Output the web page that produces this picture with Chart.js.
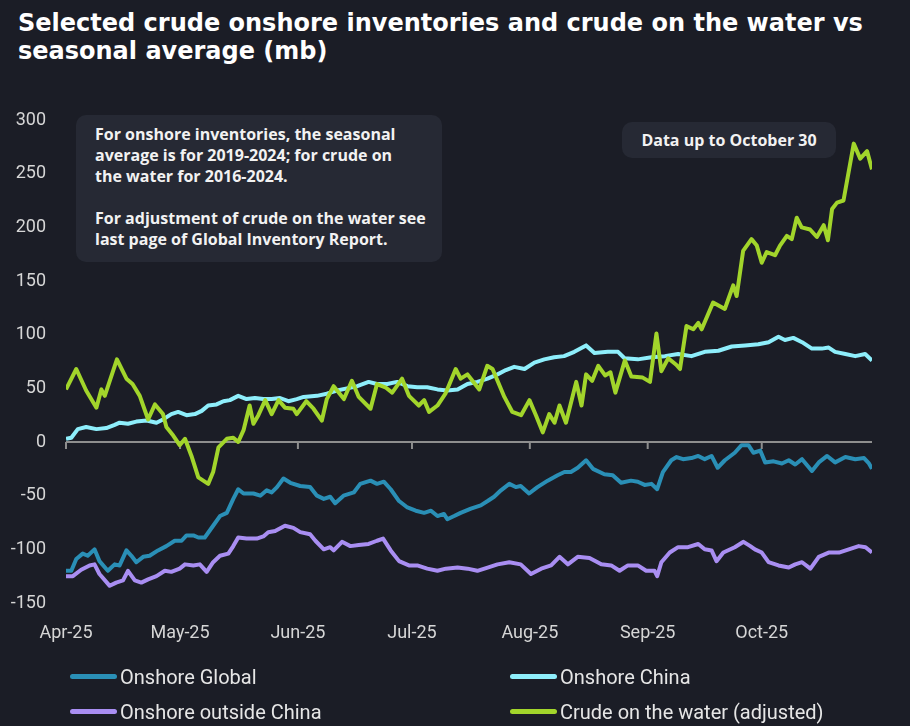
<!DOCTYPE html>
<html>
<head>
<meta charset="utf-8">
<script src="https://cdn.jsdelivr.net/npm/chart.js@4.4.1/dist/chart.umd.min.js"></script>
<style>
  body { margin: 0; background: #1b1d26; width: 910px; height: 726px; overflow: hidden; position: relative; font-family: Roboto, sans-serif; }
  #title { position: absolute; left: 18px; top: 9px; color: #ffffff; font: bold 24px/28px "DejaVu Sans", sans-serif; white-space: nowrap; }
  #wrap { position: absolute; left: 0; top: 0; width: 910px; height: 660px; }
  .note { position: absolute; background: #262934; border-radius: 10px; color: #f2f2f2; font: bold 16px/21px "Open Sans", sans-serif; box-sizing: border-box; }
  #note1 { left: 76px; top: 115px; width: 366px; height: 147px; padding: 9px 0 0 19px; }
  #note2 { left: 622px; top: 122px; width: 214px; height: 36px; line-height: 36px; text-align: center; }
  #legend { position: absolute; left: 70px; top: 659px; display: grid; grid-template-columns: 440px 330px; grid-auto-rows: 35px; }
  .item { display: flex; align-items: center; color: #e6e6e6; font: 20px Roboto, sans-serif; }
  .swatch { width: 47px; height: 5px; border-radius: 3px; margin-right: 3px; }
</style>
</head>
<body>
<div id="title">Selected crude onshore inventories and crude on the water vs<br>seasonal average (mb)</div>
<div id="wrap"><canvas id="chart"></canvas></div>
<div class="note" id="note1">For onshore inventories, the seasonal<br>average is for 2019-2024; for crude on<br>the water for 2016-2024.<br><br>For adjustment of crude on the water see<br>last page of Global Inventory Report.</div>
<div class="note" id="note2">Data up to October 30</div>
<div id="legend"></div>
<script>
// day 0 = 1 April 2025
const monthStarts = [0, 30, 61, 91, 122, 153, 183];
const monthLabels = ["Apr-25", "May-25", "Jun-25", "Jul-25", "Aug-25", "Sep-25", "Oct-25"];

const globalDays = [0, 1.4, 2.7, 4.4, 5.7, 7.5, 8.8, 11, 12.8, 14.1, 15.9, 17.2, 18.5, 20.3, 22, 24.2, 26.4, 28.6, 30.4, 31.7, 33.5, 34.8, 36.5, 38.7, 40.5, 42.3, 44, 45.3, 46.7, 49.3, 51.1, 52.8, 54.1, 55.5, 57.2, 59, 61.6, 64.2, 66, 67.8, 69.5, 70.8, 73, 75.7, 77.4, 80.1, 81.8, 83.6, 85.4, 87.6, 89.8, 92, 94.2, 96, 97.7, 99.4, 100.3, 102.1, 103.8, 106.5, 109.1, 110.9, 112.6, 114.4, 116.6, 118.3, 119.6, 121.8, 124, 126.7, 129.3, 131.1, 132.8, 134.6, 136.8, 138.6, 141.6, 143.8, 146, 148.6, 150.4, 152.2, 154, 155.5, 157, 159.2, 160.6, 162.3, 164.5, 166.3, 168, 169.8, 171.4, 173.3, 175.9, 177.7, 179.5, 180.8, 182.6, 183.9, 186.1, 188.3, 190.1, 191.8, 193.6, 196.2, 198, 200.2, 202.3, 205, 207.6, 209.9, 211.2, 212];
const globalVals = [-120, -120, -109, -104, -106, -100, -111, -120, -114, -115, -101, -106, -112, -107, -106, -101, -97, -92, -92, -87, -87, -89, -89, -78, -69, -66, -53, -44, -48, -48, -50, -45, -47, -42, -34, -38, -41, -42, -50, -53, -51, -57, -50, -47, -39, -36, -39, -37, -44, -55, -61, -64, -66, -64, -69, -67, -72, -69, -66, -62, -59, -55, -51, -45, -39, -42, -41, -48, -42, -36, -31, -28, -28, -24, -17, -25, -30, -31, -38, -36, -37, -40, -39, -44, -28, -17, -14, -16, -15, -13, -16, -13, -24, -17, -10, -3, -3, -10, -8, -19, -18, -20, -17, -21, -16, -27, -19, -13, -19, -14, -16, -15, -20, -25];

const chinaDays = [0, 1.4, 3.1, 5.3, 8, 10.6, 12.8, 14.1, 16.3, 18.5, 21.2, 23.8, 25.5, 27.7, 29.5, 31.7, 33.9, 35.7, 37.4, 39.6, 41.4, 43.1, 45.3, 47.5, 49.7, 51.9, 54.1, 56.3, 58.5, 60.7, 62.5, 66, 68.6, 71.3, 73.9, 76.6, 79.6, 81.8, 84.5, 87.1, 89.8, 92.4, 95, 97.7, 100.3, 103, 105.6, 108.2, 110.9, 113.5, 115.7, 117.9, 120.6, 123.2, 125.8, 128.4, 131, 133.7, 136.8, 139, 142.5, 145.2, 146.9, 150.4, 154, 157.5, 161, 164.5, 168, 171.6, 175.1, 178.6, 182.1, 184.8, 187.4, 189.1, 191.3, 193.6, 196.2, 198.8, 200.6, 202.3, 205, 207.6, 210.2, 212];
const chinaVals = [3, 4, 12, 14, 12, 13, 16, 18, 17, 19, 20, 18, 21, 26, 28, 25, 26, 29, 34, 35, 38, 39, 43, 40, 41, 40, 40, 41, 38, 40, 42, 43, 45, 48, 50, 52, 56, 54, 54, 56, 52, 51, 51, 49, 48, 49, 54, 56, 59, 63, 67, 70, 68, 74, 77, 79, 80, 84, 90, 83, 84, 84, 78, 77, 79, 80, 82, 80, 84, 85, 89, 90, 91, 93, 98, 95, 97, 93, 87, 87, 88, 84, 82, 80, 82, 76];

const outsideDays = [0, 1.8, 4, 6.2, 7.5, 8.8, 11.5, 13.2, 15, 16.3, 18.1, 19.8, 21.6, 23.8, 26, 27.7, 29.9, 31.3, 33.5, 35.2, 37, 38.7, 40.5, 42.7, 44, 45.3, 47.5, 50.2, 51.9, 53.2, 55, 57.6, 59.8, 61.6, 64.2, 65.6, 67.8, 69.5, 70.4, 72.6, 74.8, 77, 79.6, 81.8, 83.4, 85.4, 87.6, 90.2, 92.4, 95, 97.7, 99.9, 103, 105.6, 108.2, 110.9, 113.5, 116.6, 119.6, 122.3, 125, 127.6, 129.8, 132, 134.6, 137.7, 140.8, 143.4, 145.6, 147.8, 150.4, 152.6, 154.8, 155.5, 156.6, 158.8, 161, 163.6, 166.3, 168, 169.8, 171.1, 172.9, 175.9, 178.2, 180, 181.2, 183, 184.8, 187.4, 190.1, 191.8, 193.6, 195.8, 198, 200.6, 203.3, 205.9, 208.5, 210.3, 212];
const outsideVals = [-125, -125, -119, -115, -114, -123, -134, -131, -129, -120, -129, -131, -128, -125, -120, -121, -118, -114, -115, -114, -121, -112, -106, -104, -97, -89, -90, -90, -88, -84, -83, -78, -80, -84, -86, -92, -100, -98, -101, -93, -97, -96, -95, -92, -90, -101, -111, -115, -115, -118, -120, -118, -117, -118, -120, -117, -114, -112, -114, -123, -118, -115, -107, -114, -107, -108, -114, -115, -120, -115, -115, -120, -120, -125, -112, -103, -98, -98, -95, -100, -101, -111, -103, -98, -93, -97, -100, -103, -112, -115, -117, -114, -112, -118, -107, -103, -103, -100, -97, -98, -103];

const waterDays = [0, 2.7, 5.3, 8, 9.3, 10.2, 13.4, 15.9, 17.5, 19.4, 21.6, 23.4, 25.5, 26.4, 28.2, 29.9, 31.3, 33, 34.8, 36.1, 37.4, 38.7, 40.1, 42.3, 44, 45.3, 46.7, 48.3, 49.3, 50.6, 52.4, 54.1, 55.9, 57.6, 59.8, 60.7, 63.2, 65.1, 67.3, 68.6, 70.4, 73.1, 75.2, 77, 80.1, 81.8, 84, 85.8, 88.4, 90.2, 92.8, 94.2, 95.5, 97.7, 99.8, 102.5, 103.8, 105.6, 106.9, 108.7, 110.8, 112.2, 115.3, 117.4, 119.7, 121.9, 123.6, 125.4, 127.1, 128.5, 129.8, 131.5, 134.2, 135.6, 136.8, 138.4, 140, 141.8, 143.2, 144.5, 147, 148.7, 151.7, 153.6, 155.3, 156.6, 158.4, 160.5, 161.5, 163.2, 165, 166.3, 167.2, 170.2, 173.3, 174.2, 175.5, 176.4, 178.1, 180.3, 181.7, 183, 184.3, 186.5, 187.8, 189.6, 190.9, 192.2, 193.5, 195.7, 197.5, 199.3, 200.4, 201.5, 202.8, 204.5, 207.2, 208.9, 210.7, 212];
const waterVals = [49, 68, 48, 32, 49, 43, 77, 59, 54, 43, 21, 35, 26, 14, 6, -3, 3, -13, -33, -36, -39, -28, -5, 3, 4, 0, 11, 34, 17, 25, 39, 26, 39, 32, 31, 26, 38, 31, 20, 40, 52, 40, 57, 42, 31, 54, 51, 46, 59, 43, 34, 39, 28, 34, 45, 68, 59, 63, 57, 49, 71, 68, 42, 28, 25, 39, 25, 9, 26, 18, 34, 18, 56, 34, 63, 57, 71, 62, 65, 46, 76, 61, 60, 56, 101, 66, 78, 72, 68, 108, 105, 111, 105, 130, 124, 133, 146, 136, 178, 189, 183, 167, 177, 174, 183, 192, 189, 209, 200, 198, 191, 202, 188, 217, 223, 225, 278, 264, 271, 254];

const tickColor = "#d6d6d6";
const axisGrey = "#8e8e8e";

function pts(days, vals) {
  return days.map((d, i) => ({ x: d, y: vals[i] }));
}

function line(label, days, vals, color, order) {
  return {
    label: label,
    data: pts(days, vals),
    borderColor: color,
    backgroundColor: color,
    borderWidth: 4,
    pointRadius: 0,
    tension: 0,
    borderJoinStyle: "round",
    order: order
  };
}

// small tick marks hanging under the zero line at each month
const zeroTicks = {
  id: "zeroTicks",
  beforeDatasetsDraw(chart) {
    const xs = chart.scales.x, ys = chart.scales.y, c = chart.ctx;
    const y0 = ys.getPixelForValue(0);
    c.save();
    c.strokeStyle = axisGrey;
    c.lineWidth = 2;
    monthStarts.forEach(d => {
      const x = xs.getPixelForValue(d);
      c.beginPath();
      c.moveTo(x, y0);
      c.lineTo(x, y0 + 7);
      c.stroke();
    });
    c.restore();
  }
};

const chart = new Chart(document.getElementById("chart").getContext("2d"), {
  type: "line",
  data: {
    datasets: [
      line("Onshore Global", globalDays, globalVals, "#2a8fb6", 3),
      line("Onshore China", chinaDays, chinaVals, "#8eeefb", 2),
      line("Onshore outside China", outsideDays, outsideVals, "#a98ef2", 4),
      line("Crude on the water (adjusted)", waterDays, waterVals, "#a2d52b", 1)
    ]
  },
  options: {
    responsive: true,
    maintainAspectRatio: false,
    animation: false,
    layout: { padding: { top: 120, left: 4, right: 38, bottom: 0 } },
    plugins: {
      legend: { display: false },
      tooltip: { enabled: false }
    },
    scales: {
      x: {
        type: "linear",
        min: 0,
        max: 212,
        afterBuildTicks: s => { s.ticks = monthStarts.map(v => ({ value: v })); },
        afterFit: s => { s.height = 57; },
        ticks: {
          callback: (v, i) => monthLabels[i],
          color: tickColor,
          font: { family: "Roboto", size: 18 },
          padding: 20,
          maxRotation: 0,
          autoSkip: false
        },
        grid: { display: false, drawTicks: false },
        border: { display: false }
      },
      y: {
        min: -150,
        max: 300,
        afterFit: s => { s.width = 62; },
        ticks: {
          stepSize: 50,
          color: tickColor,
          font: { family: "Roboto", size: 18 },
          padding: 20
        },
        grid: {
          drawTicks: false,
          lineWidth: 2,
          color: c => (c.tick && c.tick.value === 0 ? axisGrey : "transparent")
        },
        border: { display: false }
      }
    }
  },
  plugins: [zeroTicks]
});

// legend built from the chart's datasets
const legend = document.getElementById("legend");
chart.data.datasets.forEach(ds => {
  const item = document.createElement("div");
  item.className = "item";
  item.innerHTML = '<span class="swatch" style="background:' + ds.borderColor + '"></span>' + ds.label;
  legend.appendChild(item);
});
</script>
</body>
</html>
